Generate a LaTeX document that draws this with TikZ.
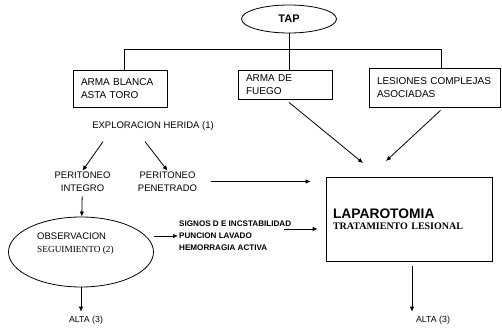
\documentclass[tikz,border=0pt]{standalone}
\usepackage{fontspec}
\setmainfont{Liberation Sans}
\newfontfamily\serifnote{Liberation Serif}
\usepackage{tikz}
\usetikzlibrary{shapes.geometric,arrows.meta,positioning}

\begin{document}
\begin{tikzpicture}[x=1pt,y=-1pt,
    lbl/.style={font=\fontsize{9.5}{12.5}\selectfont, inner sep=1pt, align=center},
    boxnode/.style={draw, thick, font=\fontsize{10}{12.5}\selectfont, align=left, inner xsep=8pt},
    arr/.style={-{Latex[length=5pt,width=4.5pt]}, thick}]
  \fill[white] (0,0) rectangle (502,334);
  \useasboundingbox (0,0) rectangle (502,334);
  % top of the tree
  \node[draw, thick, ellipse, minimum width=95pt, minimum height=28pt, inner sep=0pt,
        font=\fontsize{11}{13}\selectfont\bfseries] (tap) at (289,19) {TAP};
  \node[boxnode, minimum width=94pt, minimum height=37pt, text width=78pt] (blanca) at (120,88.5) {ARMA BLANCA\\ASTA TORO};
  \node[boxnode, minimum width=94pt, minimum height=29pt, text width=78pt] (fuego) at (285,84.5) {ARMA DE\\FUEGO};
  \node[boxnode, minimum width=131pt, minimum height=39pt, text width=115pt] (lesiones) at (434.5,87.5) {LESIONES COMPLEJAS\\ASOCIADAS\\[3pt]};
  \coordinate (busL) at (124,49);
  \coordinate (busR) at (441,49);
  \draw[thick] (busL) -- (busR);
  \draw[thick] (tap.south) -- (tap.south |- busL);
  \draw[thick] (busL) -- (busL |- blanca.north);
  \draw[thick] (tap.south |- busL) -- (tap.south |- fuego.north);
  \draw[thick] (busR) -- (busR |- lesiones.north);
  % wound branch
  \node[lbl] (explor) at (153,126) {EXPLORACION HERIDA (1)};
  \node[lbl] (integro) at (82.5,181.5) {PERITONEO\\INTEGRO};
  \node[lbl] (penetrado) at (167.5,181.5) {PERITONEO\\PENETRADO};
  \draw[arr] ([xshift=-50pt,yshift=-10pt]explor.south) -- (integro.north);
  \draw[arr] ([xshift=-8pt,yshift=-10pt]explor.south) -- (penetrado.north);
  % laparotomy
  \node[draw, thick, minimum width=166pt, minimum height=84pt, text width=152pt, inner xsep=7pt,
        align=left] (lapbox) at (409,219)
       {\fontsize{13.8}{15}\selectfont\bfseries LAPAROTOMIA\\[-1pt]
        \serifnote\fontsize{10}{11}\selectfont\bfseries TRATAMIENTO LESIONAL};
  \coordinate (lapA) at (363,163);
  \coordinate (lapB) at (386,161);
  \draw[arr] ([xshift=4pt,yshift=-3pt]fuego.south) -- (lapA);
  \draw[arr] ([xshift=6pt,yshift=-3pt]lesiones.south) -- (lapB);
  \draw[arr, shorten <=13pt, shorten >=15pt] (penetrado.east) -- (penetrado.east -| lapbox.west);
  % observation
  \node[draw, thick, ellipse, minimum width=145pt, minimum height=70pt] (obs) at (81,252) {};
  \node[lbl, align=left, anchor=west] (obstxt) at (36,243.5)
       {OBSERVACION\\{\serifnote\fontsize{9.3}{12}\selectfont SEGUIMIENTO (2)}};
  \draw[arr, shorten <=4pt] (integro) -- (obs);
  \node[lbl, align=left, anchor=west, font=\fontsize{8.1}{12}\selectfont\bfseries] (signos) at (178,236)
       {SIGNOS D E INCSTABILIDAD\\PUNCION LAVADO\\HEMORRAGIA ACTIVA};
  \draw[arr] ([yshift=16pt]obs.east) -- (signos.west);
  \draw[arr, shorten >=8pt] ([xshift=-8pt,yshift=7pt]signos.east) -- ([yshift=7pt]signos.east -| lapbox.west);
  % discharge
  \node[lbl, font=\fontsize{8.8}{11}\selectfont] (alta1) at (86,320) {ALTA (3)};
  \node[lbl, font=\fontsize{8.8}{11}\selectfont] (alta2) at (433,320) {ALTA (3)};
  \draw[arr, shorten >=3pt] (obs.south) -- (obs.south |- alta1.north);
  \draw[arr, shorten <=5pt, shorten >=3pt] ([xshift=3pt]lapbox.south) -- ([xshift=3pt]lapbox.south |- alta2.north);
\end{tikzpicture}
\end{document}
